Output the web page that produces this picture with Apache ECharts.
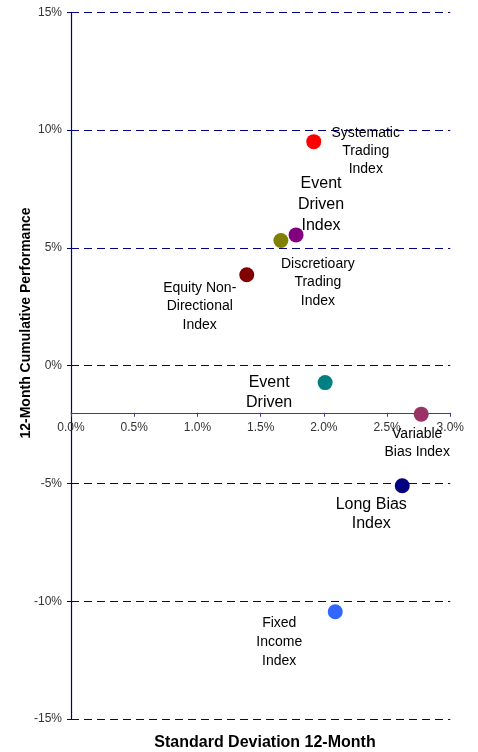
<!DOCTYPE html>
<html><head><meta charset="utf-8">
<script src="https://cdn.jsdelivr.net/npm/echarts@6/dist/echarts.min.js"></script>
<style>html,body{margin:0;padding:0;background:#fff}#c{width:478px;height:752px}</style>
</head><body><div id="c"></div>
<script>
// ---- data ----
const fundNames = ['Systematic Trading Index','Event Driven Index','Discretioary Trading Index','Equity Non-Directional Index','Event Driven','Variable Bias Index','Long Bias Index','Fixed Income Index'];
const labelTexts = ['Systematic\nTrading\nIndex','Event\nDriven\nIndex','Discretioary\nTrading\nIndex','Equity Non-\nDirectional\nIndex','Event\nDriven','Variable\nBias Index','Long Bias\nIndex','Fixed\nIncome\nIndex'];
const stdDev12m = [1.92, 1.78, 1.66, 1.39, 2.01, 2.77, 2.62, 2.09];
const perf12m = [9.51, 5.55, 5.31, 3.86, -0.72, -2.06, -5.10, -10.45];
const xTicks = [0, 0.5, 1.0, 1.5, 2.0, 2.5, 3.0];
const yTicks = [-15, -10, -5, 0, 5, 10, 15];
const xAxisCross = -2;

// ---- styles ----
const pointColors = ['#FF0000','#800080','#808000','#800000','#008080','#993366','#000080','#3366FF'];
const labelStyle = [
  {off:[52,10], size:14, lh:18},
  {off:[25,-30], size:16, lh:21},
  {off:[37,42], size:14, lh:18.5},
  {off:[-47,31.5], size:14, lh:18.5},
  {off:[-56,9.5], size:16, lh:20},
  {off:[-4,29], size:14, lh:18},
  {off:[-31,28], size:16, lh:19},
  {off:[-56,30], size:14, lh:19}
];
const FONT = '"Liberation Sans", Arial, sans-serif';
const gridTop = 12.3, gridBottom = 33, gridLeft = 71, gridRight = 27.7;
const plotH = 752 - gridTop - gridBottom;
const yMin = yTicks[0], yMax = yTicks[yTicks.length-1];
const xOffset = -plotH * (xAxisCross - yMin) / (yMax - yMin);

const data = fundNames.map((n,i)=>({
  name:n, value:[stdDev12m[i], perf12m[i]],
  itemStyle:{color:pointColors[i], opacity:1},
  label:{show:true, formatter:labelTexts[i], position:'inside', align:'center', verticalAlign:'middle',
    offset:labelStyle[i].off, fontSize:labelStyle[i].size, lineHeight:labelStyle[i].lh,
    color:'#000', opacity:1, textBorderWidth:0, fontFamily:FONT}
}));

const chart = echarts.init(document.getElementById('c'), null, {renderer:'canvas'});
chart.setOption({
  animation:false,
  backgroundColor:'#fff',
  grid:{left:gridLeft, right:gridRight, top:gridTop, bottom:gridBottom, containLabel:false},
  xAxis:{type:'value', min:xTicks[0], max:xTicks[xTicks.length-1], interval:0.5, position:'bottom', offset:xOffset,
    axisLine:{onZero:false, lineStyle:{color:'#3a3aa0', width:1}},
    axisTick:{show:true, inside:false, length:4, lineStyle:{color:'#3a3aa0'}},
    axisLabel:{formatter:v=>v.toFixed(1)+'%', fontSize:12, color:'#333', margin:9, fontFamily:FONT},
    splitLine:{show:false}},
  yAxis:{type:'value', min:yMin, max:yMax, interval:5,
    axisLine:{show:true, onZero:false, lineStyle:{color:'#000080', width:1.2}},
    axisTick:{show:true, inside:false, length:4, lineStyle:{color:'#000080'}},
    axisLabel:{formatter:v=>v+'%', fontSize:12, color:'#333', margin:9, fontFamily:FONT},
    splitLine:{show:true, lineStyle:{color:'#000080', type:[8,5], width:1}}},
  graphic:[
    {type:'text', x:26, y:323, rotation:Math.PI/2, style:{text:'12-Month Cumulative Performance', font:'bold 14px '+FONT, fill:'#000', textAlign:'center', textVerticalAlign:'middle'}},
    {type:'text', x:265, y:743, style:{text:'Standard Deviation 12-Month', font:'bold 16px '+FONT, fill:'#000', textAlign:'center', textVerticalAlign:'middle'}}
  ],
  series:[{type:'scatter', symbol:'circle', symbolSize:15, data:data, z:3, itemStyle:{opacity:1}, emphasis:{disabled:true}}]
});
</script></body></html>
